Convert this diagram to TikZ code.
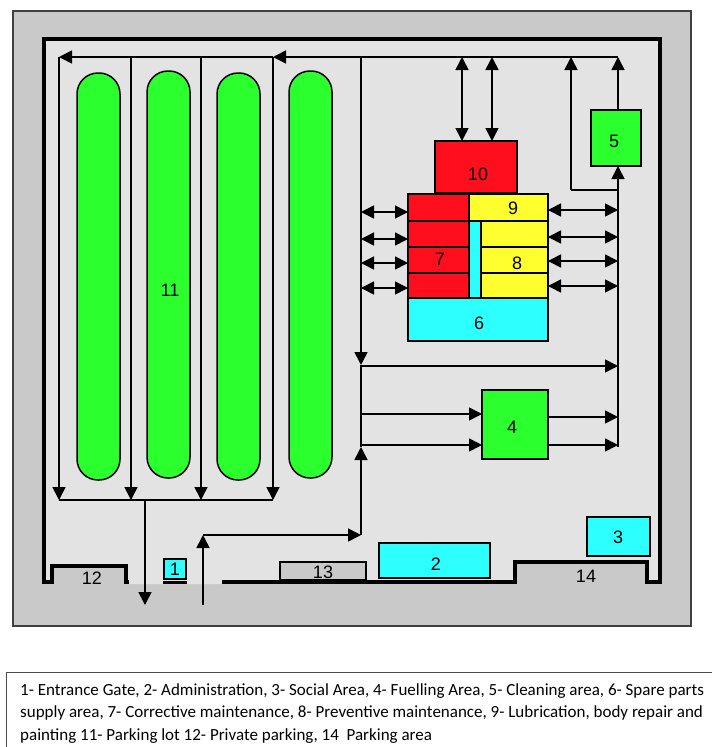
\documentclass[tikz,border=0pt]{standalone}
\usepackage{fontspec}
\usepackage{xcolor}
\usetikzlibrary{arrows.meta,calc}
\setmainfont{Liberation Sans}
\newfontfamily\notefont{Carlito}
\definecolor{siteframe}{RGB}{201,201,201}
\definecolor{sitefloor}{RGB}{227,227,227}
\definecolor{zonered}{RGB}{255,15,30}
\definecolor{zonegreen}{RGB}{43,255,46}
\definecolor{zonecyan}{RGB}{45,255,255}
\definecolor{zoneyellow}{RGB}{255,255,48}

\begin{document}
\begin{tikzpicture}[
  x=1pt, y=-1pt,
  font=\fontsize{18}{20}\selectfont,
  zone/.style={draw, line width=1.5pt, inner sep=0pt, outer sep=0pt},
  lot/.style={zone, fill=zonegreen, rounded corners=21pt, minimum width=43pt, minimum height=407pt},
  num/.style={inner sep=0pt},
  wall/.style={line width=4pt, miter limit=10},
  ar/.style={-{Triangle[length=13pt,width=13pt]}, line width=1.6pt},
  dbl/.style={{Triangle[length=13pt,width=13pt]}-{Triangle[length=13pt,width=13pt]}, line width=1.6pt}
]
\useasboundingbox (0,0) rectangle (712,747);

% site and walls
\node[draw=black!75, line width=1.5pt, fill=siteframe, inner sep=0pt, minimum width=678pt, minimum height=615pt] (site) at (352,318.5) {};
\fill[sitefloor] (44,39) -- (660,39) -- (660,582) -- (647,582) -- (647,562) -- (515,562) -- (515,582) -- (222,584)
  -- (129,584) -- (126,582) -- (126,566) -- (52,566) -- (52,582) -- (44,582) -- cycle;
\draw[wall] (129,582) -- (126,582) -- (126,566) -- (52,566) -- (52,582) -- (44,582) -- (44,39) -- (660,39)
  -- (660,582) -- (647,582) -- (647,562) -- (515,562) -- (515,582) -- (222,582);
\draw[line width=2.5pt] (163,582.5) -- (187,582.5);

% parking lot
\node[lot] (lot1) at (98.5,276.5) {};
\node[lot] (lot2) at (168.5,274.5) {};
\node[lot] (lot3) at (238.5,276.5) {};
\node[lot] (lot4) at (310.5,274.5) {};

% zones
\node[zone, fill=zonecyan, minimum width=22pt, minimum height=20pt] (gate) at (175,569) {};
\node[zone, fill=zonecyan, minimum width=111pt, minimum height=35pt] (admin) at (434.5,560.5) {};
\node[zone, fill=zonecyan, minimum width=63pt, minimum height=39pt] (social) at (618.5,536.5) {};
\node[zone, fill=zonegreen, minimum width=66pt, minimum height=69pt] (fuel) at (515,424.5) {};
\node[zone, fill=zonegreen, minimum width=50pt, minimum height=56pt] (clean) at (616,138) {};
\node[zone, fill=siteframe, minimum width=86pt, minimum height=18pt] (shed) at (323,571) {};
\node[zone, fill=zonered, minimum width=82pt, minimum height=52pt] (top) at (476,167) {};
\node[zone, fill=zonecyan, minimum width=140pt, minimum height=43pt] (spare) at (478,319.5) {};
\node[zone, fill=zonecyan, minimum width=12pt, minimum height=77pt] (strip) at (475,259.5) {};
\node[zone, fill=zoneyellow, minimum width=79pt, minimum height=27pt] (lube) at (508.5,207.5) {};
\foreach \i/\y/\h in {1/207.5/27, 2/234/26, 3/260/26, 4/285.5/25}
  \node[zone, fill=zonered, minimum width=61pt, minimum height=\h pt] (cor\i) at (438.5,\y) {};
\foreach \i/\y/\h in {2/234/26, 3/260/26, 4/285.5/25}
  \node[zone, fill=zoneyellow, minimum width=67pt, minimum height=\h pt] (pre\i) at (514.5,\y) {};

% numbers
\foreach \t/\x/\y in {1/175/569, 2/436/564, 3/618/537, 4/512/427, 5/614/141, 6/479/323, 7/440/259,
    8/517/263, 9/513/208, 10/478/174, 11/170/290, 12/92/578, 13/323/572, 14/586/576}
  \node[num] (n\t) at (\x,\y) {\t};

% road points
\coordinate (busNE) at (618,57);
\coordinate (busC) at (361,57);
\coordinate (busW) at (59,57);
\coordinate (busS) at (273,500);
\coordinate (midC) at (361,365);
\coordinate (midE) at (618,366);
\coordinate (joinE) at (618,447);
\coordinate (joinC) at (361,447);
\coordinate (turnC) at (361,535);
\coordinate (inTop) at (203,535);
\coordinate (inEnd) at (203,605);
\coordinate (outTop) at (145,500);
\coordinate (outEnd) at (145,605);
\coordinate (cleanBack) at (618,190);
\coordinate (backTop) at (571,57);
\foreach \i/\x in {1/59, 2/131, 3/201, 4/273} {
  \coordinate (rowT\i) at (\x,57);
  \coordinate (rowB\i) at (\x,500);
  \draw[ar] (rowT\i) -- (rowB\i);
}

% roads
\draw[ar] (busNE) -- (rowT4);
\draw[ar] (rowT4) -- (busW);
\draw[line width=1.6pt] (rowB1) -- (busS);
\draw[ar] (outTop) -- (outEnd);
\draw[ar] (inEnd) -- (inTop);
\draw[ar] (inTop) -- (turnC);
\draw[ar] (turnC) -- (joinC);
\draw[ar] (busC) -- (midC);
\draw[line width=1.6pt] (midC) -- (joinC);
\draw[ar] (midC |- midE) -- (midE);
\draw[ar] (midC |- 0,414) -- (fuel.west |- 0,414);
\draw[ar] (midC |- 0,445) -- (fuel.west |- 0,445);
\draw[ar] (fuel.east |- 0,417) -- (midE |- 0,417);
\draw[ar] (fuel.east |- 0,445) -- (midE |- 0,445);
\draw[line width=1.6pt] (joinE) -- (midE);
\draw[ar] (midE) -- (clean.south -| joinE);
\draw[ar] (clean.north -| busNE) -- (busNE);
\draw[line width=1.6pt] (cleanBack) -- (backTop |- cleanBack);
\draw[ar] (backTop |- cleanBack) -- (backTop);

% double arrows
\foreach \x in {462, 492}
  \draw[dbl] (\x,57) -- (top.north -| \x,0);
\foreach \y in {212, 239, 263, 288}
  \draw[dbl] (busC |- 0,\y) -- (cor1.west |- 0,\y);
\foreach \y in {210, 237, 261, 286}
  \draw[dbl] (lube.east |- 0,\y) -- (busNE |- 0,\y);

% legend
\draw[line width=1pt, black!70] (6,747) -- (6,672) -- (712,672);
\node[anchor=north west, inner sep=0pt, align=left, font=\notefont\fontsize{17}{22.5}\selectfont] (legend) at (20,683) {%
  1- Entrance Gate, 2- Administration, 3- Social Area, 4- Fuelling Area, 5- Cleaning area, 6- Spare parts\\
  supply area, 7- Corrective maintenance, 8- Preventive maintenance, 9- Lubrication, body repair and\\
  painting 11- Parking lot 12- Private parking, 14\ \ Parking area};
\end{tikzpicture}
\end{document}
